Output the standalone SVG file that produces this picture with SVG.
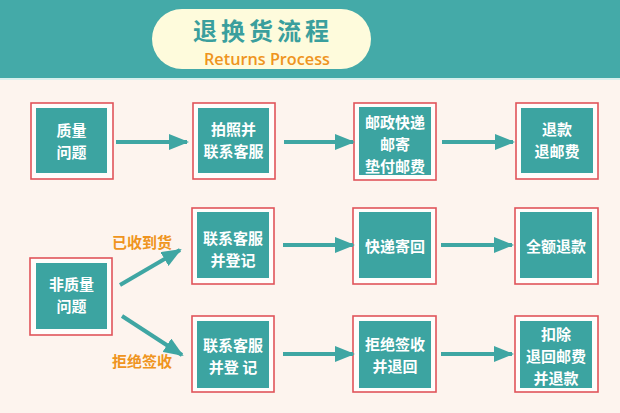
<svg xmlns="http://www.w3.org/2000/svg" width="620" height="413" viewBox="0 0 620 413">
<defs>
<marker id="ah" markerWidth="5" markerHeight="4" refX="4.5" refY="2" orient="auto" markerUnits="strokeWidth">
<path d="M0,0 L5,2 L0,4 Z" fill="#3fa6a3"/>
</marker>
<style>
.outer{fill:#fffdfb;stroke:#e0545a;stroke-width:1.6}
.inner{fill:#3ca4a1}
.t{font-family:"Noto Sans CJK SC","Noto Sans",sans-serif;font-weight:bold;font-size:15px;fill:#ffffff;text-anchor:middle}
.lbl{font-family:"Noto Sans CJK SC","Noto Sans",sans-serif;font-weight:bold;font-size:15px;fill:#ef9420;text-anchor:middle}
.c{stroke:#3fa6a3;stroke-width:4;fill:none;marker-end:url(#ah)}
</style>
</defs>
<rect x="0" y="0" width="620" height="413" fill="#fdf4ee"/>
<rect x="0" y="0" width="620" height="78" fill="#44aaa8"/>
<rect x="0" y="78" width="620" height="2" fill="#d8efec"/>
<g id="title">
<rect x="152" y="9" width="219" height="60" rx="30" fill="#fefbdc"/>
<text x="263" y="40" font-family="'Noto Sans CJK SC',sans-serif" font-weight="bold" font-size="24" fill="#3a9f9d" text-anchor="middle" letter-spacing="4">退换货流程</text>
<text x="267" y="65" font-family="'Open Sans','Liberation Sans',sans-serif" font-weight="600" font-size="17" fill="#ef9420" text-anchor="middle" textLength="126" lengthAdjust="spacingAndGlyphs">Returns Process</text>
</g>
<g id="n1"><rect class="outer" x="31" y="103" width="82" height="76"/><rect class="inner" x="36" y="108" width="71" height="65"/>
<text class="t" x="71.5" y="136">质量</text><text class="t" x="71.5" y="158">问题</text></g>
<g id="n2"><rect class="outer" x="193" y="103" width="82" height="76"/><rect class="inner" x="198" y="108" width="71" height="65"/>
<text class="t" x="233.5" y="135">拍照并</text><text class="t" x="233.5" y="157">联系客服</text></g>
<g id="n3"><rect class="outer" x="354" y="103" width="82" height="77"/><rect class="inner" x="359" y="107" width="72" height="68"/>
<text class="t" x="395" y="128">邮政快递</text><text class="t" x="395" y="150">邮寄</text><text class="t" x="395" y="172">垫付邮费</text></g>
<g id="n4"><rect class="outer" x="516" y="103" width="82" height="76"/><rect class="inner" x="521" y="108" width="72" height="65"/>
<text class="t" x="557" y="135">退款</text><text class="t" x="557" y="157">退邮费</text></g>
<g id="n5"><rect class="outer" x="30" y="258" width="82" height="77"/><rect class="inner" x="36" y="263" width="71" height="66"/>
<text class="t" x="71.5" y="290">非质量</text><text class="t" x="71.5" y="312">问题</text></g>
<g id="n6"><rect class="outer" x="192" y="208" width="82" height="76"/><rect class="inner" x="197" y="212" width="72" height="66"/>
<text class="t" x="233" y="244">联系客服</text><text class="t" x="233" y="266">并登记</text></g>
<g id="n7"><rect class="outer" x="353" y="208" width="83" height="76"/><rect class="inner" x="359" y="212" width="72" height="66"/>
<text class="t" x="395" y="252">快递寄回</text></g>
<g id="n8"><rect class="outer" x="515" y="208" width="83" height="76"/><rect class="inner" x="520" y="212" width="72" height="66"/>
<text class="t" x="556" y="252">全额退款</text></g>
<g id="n9"><rect class="outer" x="192" y="316" width="82" height="76"/><rect class="inner" x="197" y="321" width="72" height="67"/>
<text class="t" x="233" y="351">联系客服</text><text class="t" x="233" y="373">并登 记</text></g>
<g id="n10"><rect class="outer" x="353" y="316" width="83" height="76"/><rect class="inner" x="359" y="321" width="72" height="67"/>
<text class="t" x="395" y="350">拒绝签收</text><text class="t" x="395" y="372">并退回</text></g>
<g id="n11"><rect class="outer" x="515" y="316" width="83" height="76"/><rect class="inner" x="520" y="321" width="72" height="67"/>
<text class="t" x="556" y="340">扣除</text><text class="t" x="556" y="362">退回邮费</text><text class="t" x="556" y="384">并退款</text></g>
<g id="connectors">
<line class="c" x1="116" y1="142" x2="187" y2="142"/>
<line class="c" x1="284" y1="142" x2="353" y2="142"/>
<line class="c" x1="442" y1="142" x2="513" y2="142"/>
<line class="c" x1="120" y1="285" x2="180" y2="250"/>
<line class="c" x1="122" y1="316" x2="182" y2="355"/>
<line class="c" x1="283" y1="245" x2="353" y2="245"/>
<line class="c" x1="441" y1="245" x2="512" y2="245"/>
<line class="c" x1="283" y1="354" x2="353" y2="354"/>
<line class="c" x1="441" y1="354" x2="512" y2="354"/>
<text class="lbl" x="142" y="248">已收到货</text>
<text class="lbl" x="142" y="367">拒绝签收</text>
</g>
</svg>
